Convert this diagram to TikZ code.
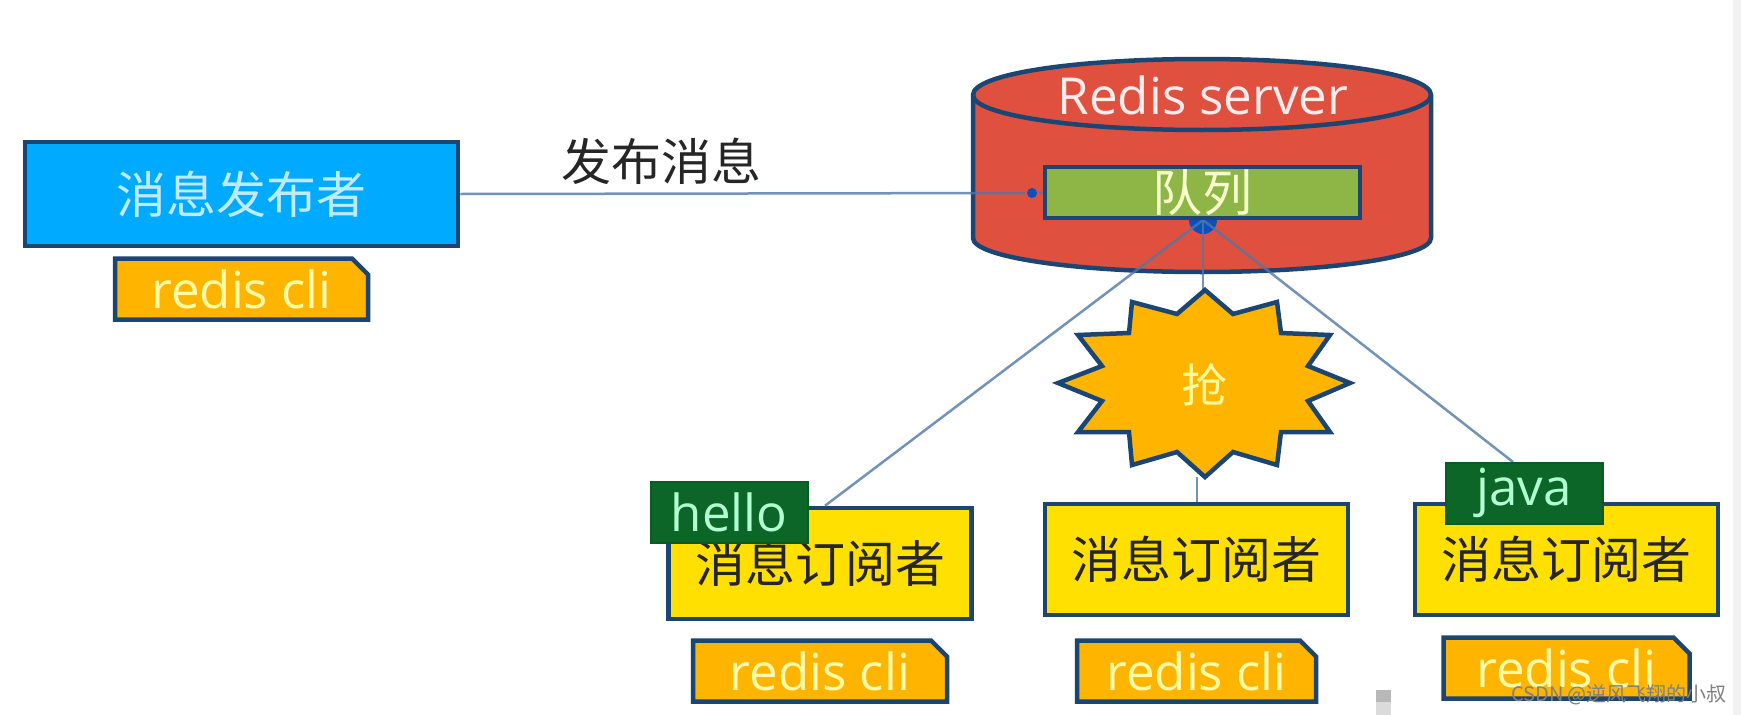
\documentclass[tikz,border=0pt]{standalone}
\usepackage{fontspec}
\setmainfont{Open Sans}
\newfontfamily\cjkfont{Noto Sans CJK SC}
\usetikzlibrary{positioning,shapes.misc}

\definecolor{edgeblue}{HTML}{1B4572}
\definecolor{linkblue}{HTML}{4F78A5}
\definecolor{hubblue}{HTML}{0A50BE}
\definecolor{pubfill}{HTML}{00AAFF}
\definecolor{subfill}{HTML}{FFE000}
\definecolor{clifill}{HTML}{FFB400}
\definecolor{serverfill}{HTML}{E0503F}
\definecolor{queuefill}{HTML}{8DB646}
\definecolor{tagfill}{HTML}{0B6628}

\newcommand{\cjksize}{\cjkfont\fontsize{50}{60}\selectfont}
\newcommand{\latinsize}{\fontsize{51}{60}\selectfont}

\begin{document}
\begin{tikzpicture}[
    x = 1pt, y = -1pt,
    line width = 4.5pt,
    inner sep = 0pt,
    box/.style = {draw = edgeblue, rectangle},
    pubbox/.style = {box, fill = pubfill, minimum width = 433pt, minimum height = 104pt,
        text = cyan!25, font = \cjksize},
    subbox/.style = {box, fill = subfill, minimum width = 303pt, minimum height = 111pt,
        text = black!85, font = \cjksize},
    clibox/.style = {draw = edgeblue, fill = clifill, minimum height = 61pt,
        chamfered rectangle, chamfered rectangle corners = north east,
        chamfered rectangle xsep = 8pt, chamfered rectangle ysep = 8pt,
        text = yellow!35, font = \latinsize},
    tagbox/.style = {draw = tagfill!90!black, line width = 2pt, fill = tagfill,
        minimum width = 157pt, minimum height = 61pt, text = green!60!cyan!30, font = \latinsize},
    link/.style = {draw = linkblue, line width = 2.5pt, opacity = 0.8}
]
\useasboundingbox (0,0) rectangle (1741,715);

% Strip and mark at the edge of the screenshot
\fill[black!5] (1733,0) rectangle (1741,715);
\fill[black!28] (1376,690) rectangle (1391,702);
\fill[black!14] (1376,702) rectangle (1391,715);

% Server
\draw[draw = edgeblue, fill = serverfill]
    (973,95) .. controls (973,74) and (1075,59) .. (1202,59)
    .. controls (1329,59) and (1431,74) .. (1431,95)
    -- (1431,238) .. controls (1431,257) and (1329,272) .. (1202,272)
    .. controls (1075,272) and (973,257) .. (973,238) -- cycle;
\draw[draw = edgeblue]
    (973,95) .. controls (973,115) and (1075,130) .. (1202,130)
    .. controls (1329,130) and (1431,115) .. (1431,95);
\node[text = red!8, font = \latinsize] (server) at (1203,95) {Redis server};

% Publisher
\node[pubbox] (pub) at (241.5,194) {消息发布者};
\node[clibox, minimum width = 253pt, below = 8pt of pub] (pubcli) {redis cli};

% Subscribers
\node[subbox] (sub1) at (820,563.5) {消息订阅者};
\node[subbox] (sub2) at (1196.5,559.5) {消息订阅者};
\node[subbox] (sub3) at (1566.5,559.5) {消息订阅者};
\node[clibox, minimum width = 254pt, below = 17pt of sub1] (cli1) {redis cli};
\node[clibox, minimum width = 239pt, below = 21pt of sub2] (cli2) {redis cli};
\node[clibox, minimum width = 246pt, below = 18pt of sub3] (cli3) {redis cli};

% Named points on the star
\coordinate (startop) at (1203,291);
\coordinate (starbot) at (1197,477);

% Connectors
\node[circle, fill = hubblue, minimum size = 28pt] (hub) at (1203,220) {};
\node[circle, fill = hubblue, minimum size = 10pt] (dot) at (1032,193) {};
\draw[link] (pub.east) -- (dot);
\draw[link] (hub.center) -- ([xshift=5pt]sub1.north);
\draw[link] (hub.center) -- (startop);
\draw[link] (starbot) -- (starbot |- sub2.north);
\draw[link] (hub.center) -- (1513,462);

% Queue
\node[box, fill = queuefill, minimum width = 315pt, minimum height = 51pt,
    text = green!15!yellow!20, font = \cjkfont\fontsize{50}{58}\selectfont]
    (queue) at (1202.5,192.5) {队列};
\draw[link] (dot) -- (queue.west);

% Star
\draw[draw = edgeblue, fill = clifill, line join = miter]
    (1205,290) -- (1233,314) -- (1277,302) -- (1281,333) -- (1330,335) -- (1308,366)
    -- (1350,383) -- (1308,401) -- (1330,432) -- (1281,432) -- (1277,465) -- (1233,452)
    -- (1205,477) -- (1177,452) -- (1132,465) -- (1129,432) -- (1078,432) -- (1102,401)
    -- (1058,383) -- (1102,366) -- (1078,335) -- (1129,333) -- (1132,302) -- (1177,314)
    -- cycle;
\node[text = yellow!40, font = \cjkfont\fontsize{46}{54}\selectfont] (grab) at (1204,385) {抢};

% Tags
\node[tagbox] (hello) at (729,512.5) {hello};
\node[tagbox] (java) at (1524,493) {java};

% Label and watermark
\node[text = black!85, font = \cjksize] (publish) at (661,161) {发布消息};
\node[text = black!50, font = \cjkfont\fontsize{20}{24}\selectfont] (mark) at (1619,695) {CSDN @逆风飞翔的小叔};

\end{tikzpicture}
\end{document}
